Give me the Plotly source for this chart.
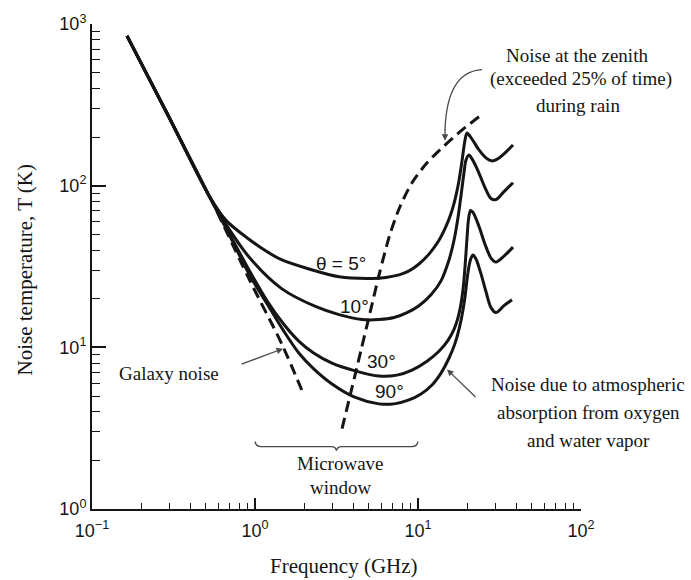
import numpy as np
import plotly.graph_objects as go

# ---------------- data (frequency in GHz, noise temperature in K) ----------------
trunk_f = [0.164, 0.297, 0.522]
trunk_t = [844, 265, 86.8]

f_5 = trunk_f + [0.664, 0.919, 1.168, 1.464, 2.145, 3.276, 5.22, 6.36, 7.65, 8.81, 10.14,
                 11.68, 13.45, 14.85, 15.94, 16.87, 17.84, 18.62, 19.43, 19.98,
                 21.45, 23.67, 26.14, 28.45, 31.4, 38.28]
t_5 = trunk_t + [61.0, 46.6, 39.4, 34.7, 30.5, 27.3, 26.7, 27.07, 28.05, 29.69, 32.76,
                 37.73, 45.98, 56.0, 67.3, 82.06, 107.3, 142.3, 191.5, 211.4,
                 194.2, 166.3, 148.5, 142.3, 148.5, 178.4]

f_10 = trunk_f + [0.664, 0.919, 1.464, 2.367, 3.276, 4.533, 5.765, 7.13, 8.56, 10.14,
                  12.02, 13.84, 15.49, 16.63, 17.6, 18.36, 19.15, 19.70, 20.56,
                  21.45, 23.34, 25.76, 28.05, 30.09, 33.7, 38.28]
t_10 = trunk_t + [57.65, 36.2, 23.0, 17.84, 15.94, 14.85, 14.85, 15.28, 16.4, 18.1,
                  21.15, 25.76, 34.67, 45.98, 63.63, 86.83, 120.2, 144.3, 155,
                  146.4, 123.6, 97.2, 83.2, 82.06, 91.9, 104.3]

f_30 = trunk_f + [0.664, 0.919, 1.185, 1.506, 1.862, 2.301, 2.968, 4.165, 5.765, 7.43,
                  9.19, 11.36, 13.45, 15.28, 16.63, 17.6, 18.36, 19.02, 19.56, 19.98,
                  20.41, 21.0, 21.75, 23.67, 25.76, 28.05, 30.09, 33.7, 38.28]
t_30 = trunk_t + [55.3, 30.1, 19.43, 13.84, 10.89, 9.187, 7.976, 7.124, 6.64, 6.73,
                  7.23, 8.205, 9.45, 11.04, 12.9, 15.28, 18.62, 24.35, 34.67, 47.3,
                  61.86, 70.25, 68.3, 56.0, 43.45, 35.66, 33.7, 36.68, 41.67]

f_90 = trunk_f + [0.664, 0.919, 1.185, 1.506, 1.862, 2.301, 2.968, 4.05, 5.765, 7.13,
                  8.81, 10.43, 12.19, 13.84, 15.49, 16.87, 17.84, 18.62, 19.43, 19.98,
                  20.56, 21.15, 21.75, 22.69, 24.35, 26.14, 28.05, 30.09, 33.7, 37.73]
t_90 = trunk_t + [54.5, 28.45, 18.62, 12.54, 9.187, 7.33, 5.93, 4.935, 4.47, 4.47,
                  4.73, 5.15, 5.85, 6.926, 8.56, 10.58, 12.9, 15.72, 20.56, 26.14,
                  31.86, 35.66, 37.2, 35.16, 28.45, 22.06, 17.6, 16.4, 18.1, 19.7]

galaxy_f = [0.584, 0.919, 1.464, 1.97]
galaxy_t = [69.3, 26.5, 10.43, 5.22]

rain_f = [3.42, 3.88, 4.47, 5.08, 5.77, 6.73, 7.76, 9.19, 11.36, 14.44, 18.62, 24.35]
rain_t = [3.14, 5.30, 9.59, 16.4, 28.05, 50.05, 74.3, 104.3, 138.4, 176, 220.6, 272.7]

window_ghz = [1.0, 10.0]

x_ticks = [0.1, 1, 10, 100]
x_ticktext = ["10<sup>−1</sup>", "10<sup>0</sup>", "10<sup>1</sup>", "10<sup>2</sup>"]
y_ticks = [1, 10, 100, 1000]
y_ticktext = ["10<sup>0</sup>", "10<sup>1</sup>", "10<sup>2</sup>", "10<sup>3</sup>"]

# ---------------- figure geometry ----------------
W, H = 691, 580
X0, X1 = 92, 581     # plot area, left/right pixel edges
Y0, Y1 = 509, 19     # plot area, bottom/top pixel edges


def pp(px, py):
    """Pixel position on the page -> paper coordinates."""
    return (px - X0) / (X1 - X0), (Y0 - py) / (Y0 - Y1)


def fx(f):
    """Frequency (GHz) -> horizontal pixel position."""
    return X0 + (np.log10(f) + 1) / 3 * (X1 - X0)


def svg_path(cmds):
    parts = []
    for c, pts in cmds:
        parts.append(c + " " + " ".join("{:.5f},{:.5f}".format(*pp(*p)) for p in pts))
    return " ".join(parts)


INK = "#151515"
GREY = "#4a4a4a"
SERIF = "Liberation Serif, Times New Roman, serif"
SANS = "Liberation Sans, Arial, sans-serif"

fig = go.Figure()

solid = dict(color=INK, width=3, shape="spline", smoothing=0.85)
dashed = dict(color=INK, width=3, dash="11px,6px", shape="spline", smoothing=0.8)

for f, t in [(f_5, t_5), (f_10, t_10), (f_30, t_30), (f_90, t_90)]:
    fig.add_trace(go.Scatter(x=f, y=t, mode="lines", line=solid, hoverinfo="skip"))

fig.add_trace(go.Scatter(x=galaxy_f, y=galaxy_t, mode="lines", line=dashed, hoverinfo="skip"))
fig.add_trace(go.Scatter(x=rain_f, y=rain_t, mode="lines", line=dashed, hoverinfo="skip"))

annotations = []


def text(px, py, s, size=19, family=SERIF, angle=0):
    x, y = pp(px, py)
    annotations.append(dict(x=x, y=y, xref="paper", yref="paper", text=s, showarrow=False,
                            xanchor="center", yanchor="middle", textangle=angle,
                            font=dict(family=family, size=size, color=INK)))


def arrow(hx, hy, tx, ty):
    x, y = pp(hx, hy)
    annotations.append(dict(x=x, y=y, xref="paper", yref="paper", text="", showarrow=True,
                            ax=tx - hx, ay=ty - hy, arrowhead=2, arrowsize=1,
                            arrowwidth=1.3, arrowcolor=GREY, standoff=0))


# curve labels
text(341, 261, "θ = 5°", family=SANS)
text(354, 304, "10°", family=SANS)
text(381, 360, "30°", family=SANS)
text(389, 390, "90°", family=SANS)

# explanatory notes
text(169, 372, "Galaxy noise")
arrow(283, 347, 240, 363)

text(577, 51, "Noise at the zenith")
text(581, 75, "(exceeded 25% of time)")
text(578, 101, "during rain")
arrow(445, 137, 445, 124)

text(588, 383, "Noise due to atmospheric")
text(588, 412, "absorption from oxygen")
text(588, 440, "and water vapor")
arrow(447, 368, 477, 397)

xa, xb = fx(window_ghz[0]), fx(window_ghz[1])
xm = (xa + xb) / 2
text(xm + 4, 463, "Microwave")
text(xm + 4, 487, "window")

# axis titles
text(344, 567, "Frequency (GHz)", size=21)
text(25, 267, "Noise temperature, T (K)", size=21, angle=-90)

shapes = [
    # brace under the microwave window
    dict(type="path", xref="paper", yref="paper",
         line=dict(color=GREY, width=1.4),
         path=svg_path([("M", [(xa, 441)]),
                        ("Q", [(xa + 1, 446), (xa + 6, 446)]),
                        ("L", [(xm - 5, 446)]),
                        ("Q", [(xm - 1, 446), (xm, 450)]),
                        ("Q", [(xm + 1, 446), (xm + 5, 446)]),
                        ("L", [(xb - 6, 446)]),
                        ("Q", [(xb - 1, 446), (xb, 441)])])),
    # curved leader from the rain note
    dict(type="path", xref="paper", yref="paper",
         line=dict(color=GREY, width=1.3),
         path=svg_path([("M", [(482, 65)]), ("Q", [(447, 67), (445, 126)])])),
]

axis_common = dict(
    type="log", showgrid=False, zeroline=False, showline=True, linecolor=INK, linewidth=2,
    ticks="inside", tickwidth=1.6, tickcolor=INK, mirror=False,
    tickfont=dict(family=SANS, size=18, color=INK),
)

fig.update_layout(
    width=W, height=H,
    margin=dict(l=X0, r=W - X1, t=Y1, b=H - Y0, pad=0),
    paper_bgcolor="white", plot_bgcolor="white",
    showlegend=False,
    xaxis=dict(axis_common, range=[-1, 2], ticklen=11, ticklabelstandoff=4,
               tickmode="array", tickvals=x_ticks, ticktext=x_ticktext,
               minor=dict(ticks="inside", ticklen=6, tickwidth=1.3, tickcolor=INK,
                          dtick="D1", showgrid=False)),
    yaxis=dict(axis_common, range=[0, 3], ticklen=14,
               tickmode="array", tickvals=y_ticks, ticktext=y_ticktext,
               minor=dict(ticks="inside", ticklen=8, tickwidth=1.3, tickcolor=INK,
                          dtick="D1", showgrid=False)),
    annotations=annotations,
    shapes=shapes,
)

fig.write_html("out.html")
